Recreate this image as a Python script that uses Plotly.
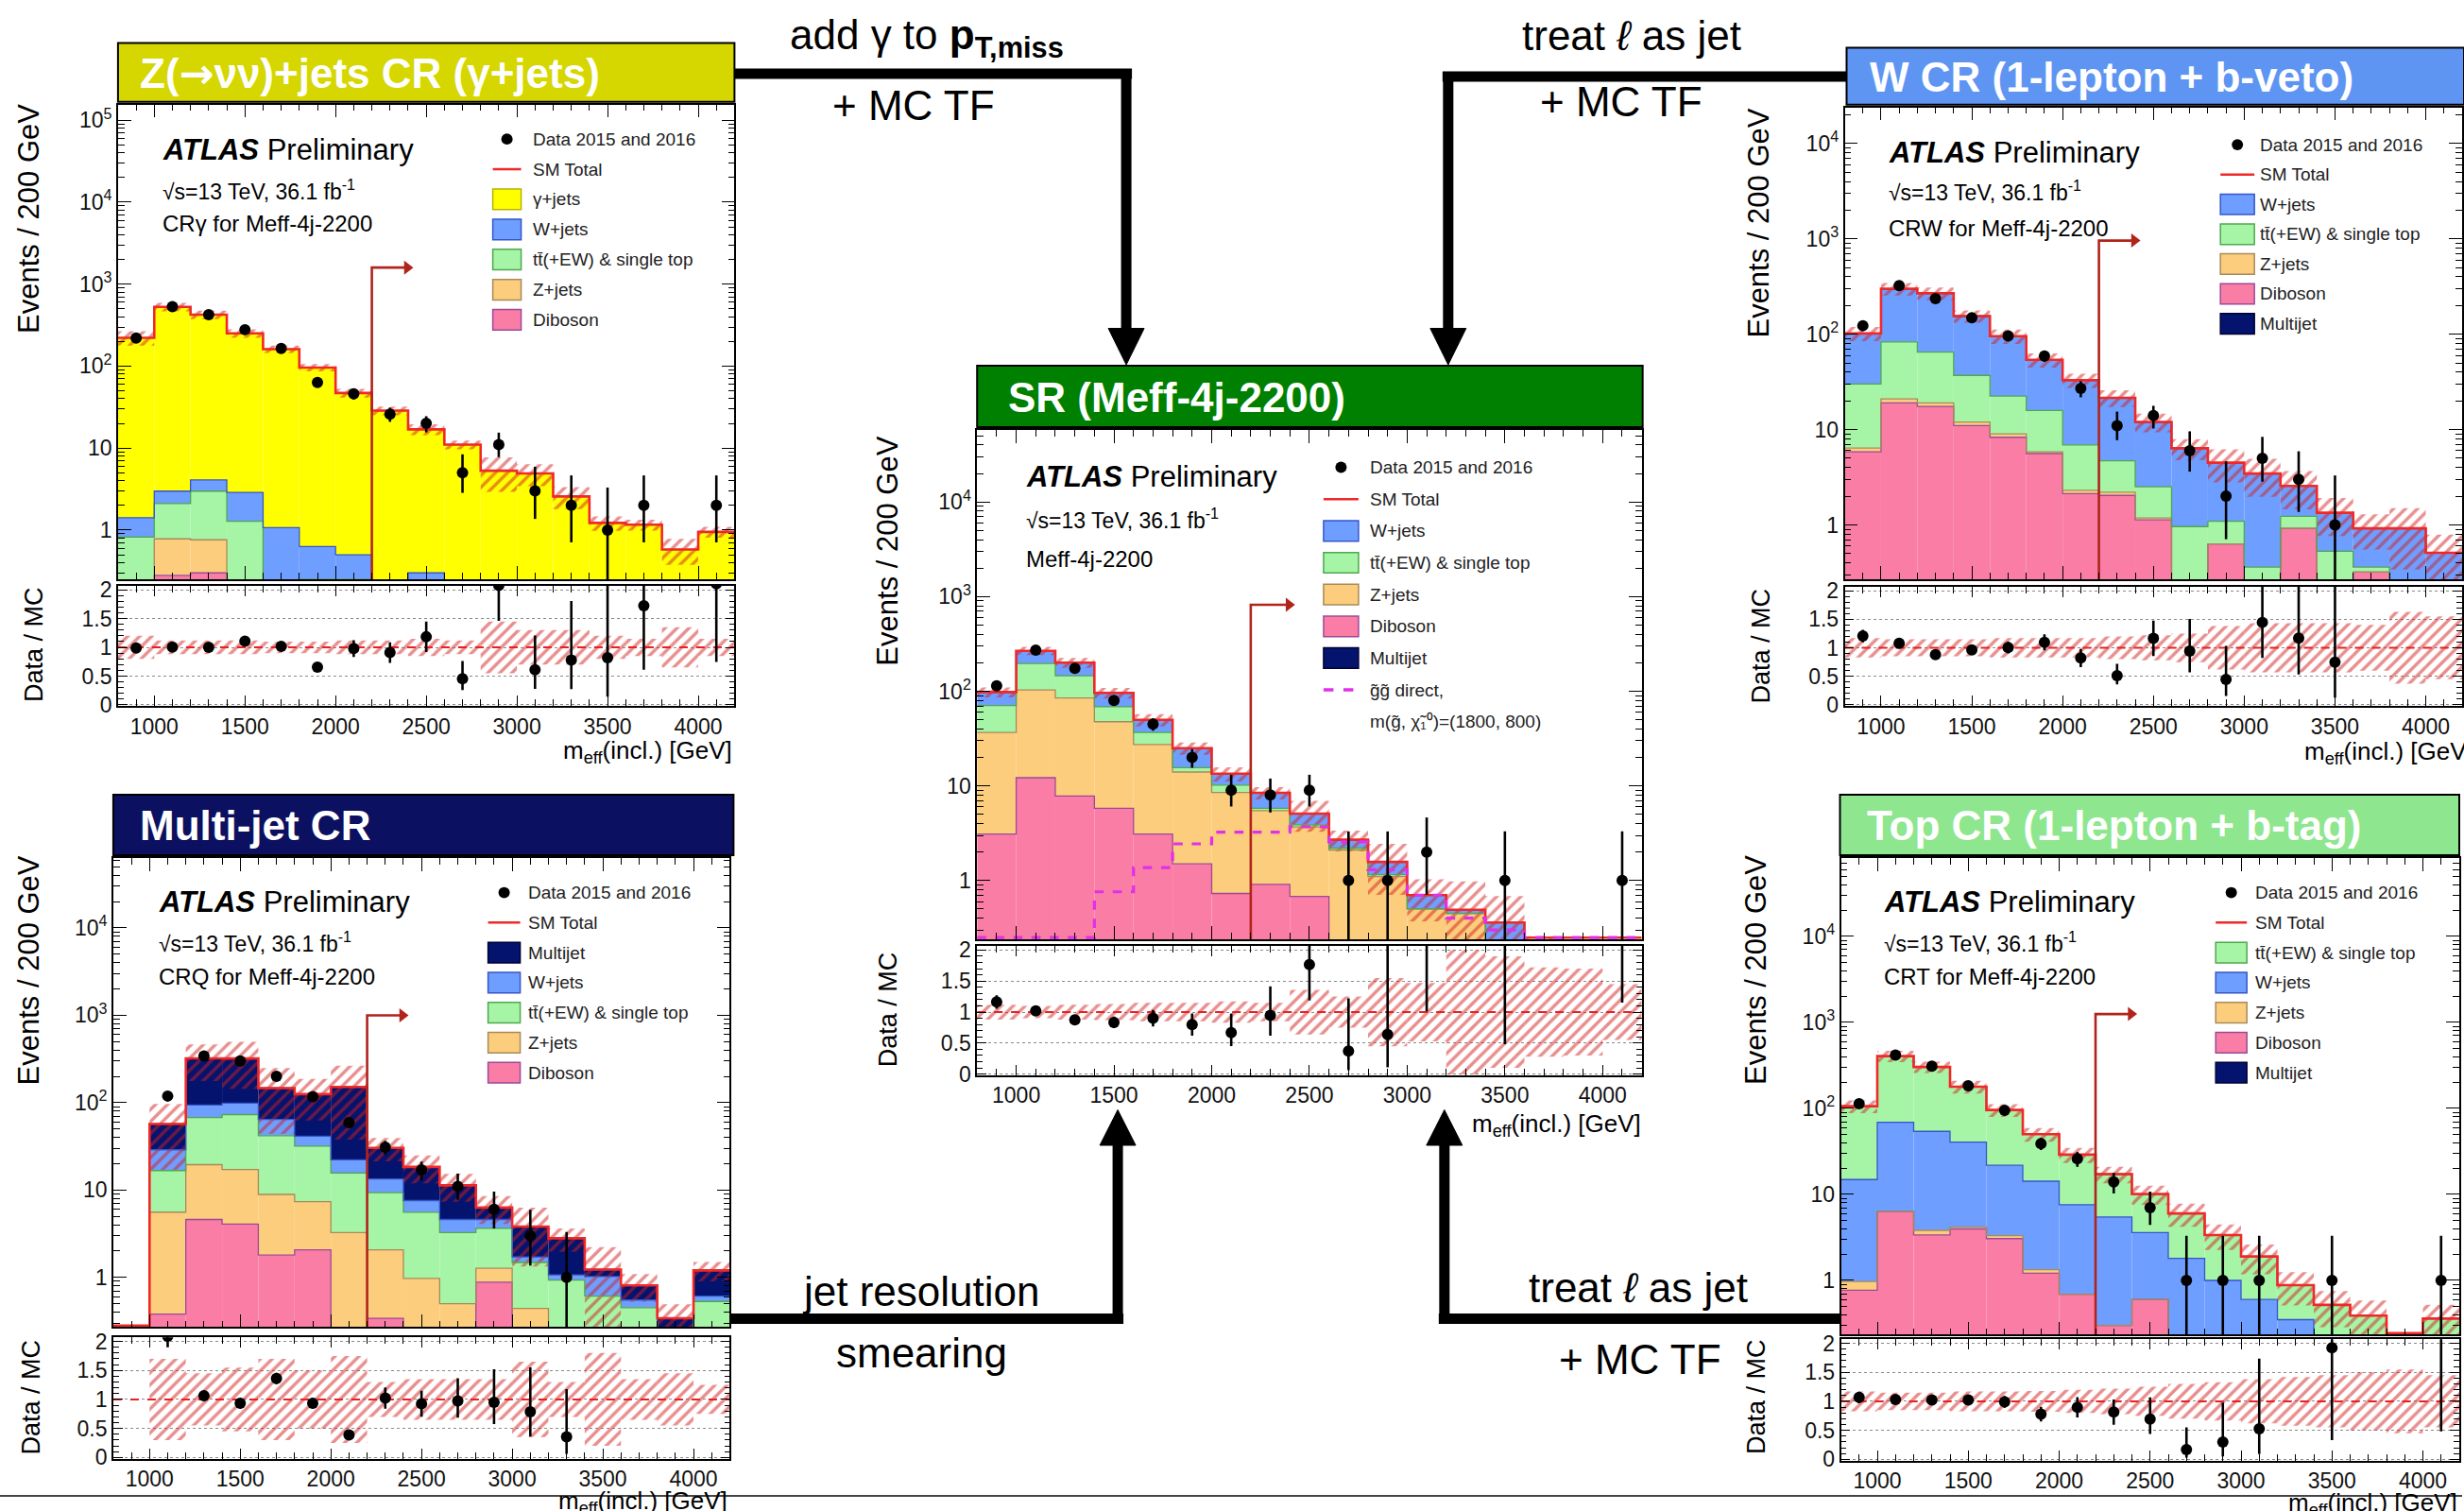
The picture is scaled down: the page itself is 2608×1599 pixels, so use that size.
import plotly.graph_objects as go

W, H = 2608, 1599
FONT = "Liberation Sans, Arial, Helvetica, sans-serif"

EDGES = [800 + 200 * i for i in range(18)]
CENTERS = [900 + 200 * i for i in range(17)]
XTICKS = [1000, 1500, 2000, 2500, 3000, 3500, 4000]
LOG_TICKS = [1, 10, 100, 1000, 10000, 100000]
LOG_TEXT = ["1", "10", "10<sup>2</sup>", "10<sup>3</sup>", "10<sup>4</sup>", "10<sup>5</sup>"]
RATIO_TICKS = [0, 0.5, 1, 1.5, 2]
RATIO_TEXT = ["0", "0.5", "1", "1.5", "2"]

# ---------------- Z(->vv)+jets CR (gamma+jets) ----------------
zcr_gamma = [220, 525, 420, 248, 160, 95.4, 46.5, 28.6, 16.6, 11.0, 5.3, 4.9, 2.57, 1.22, 1.16, 0.58, 0.95]
zcr_wjets = [0.59, 0.88, 1.1, 1.6, 0.87, 0.38, 0.25, 0, 0.15, 0, 0, 0, 0, 0, 0, 0, 0]
zcr_ttbar = [0.82, 1.32, 2.22, 1.28, 0.2, 0.25, 0.25, 0, 0.15, 0, 0, 0, 0, 0, 0, 0, 0]
zcr_zjets = [0, 0.5, 0.46, 0, 0, 0, 0, 0, 0, 0, 0, 0, 0, 0, 0, 0, 0]
zcr_dibos = [0, 0.28, 0.30, 0, 0, 0, 0, 0, 0, 0, 0, 0, 0, 0, 0, 0, 0]
zcr_data = [219, 530, 424, 278, 164, 63, 46, 26, 20, 5, 11, 3, 2, 1, 2, 0, 2]
zcr_unc = [0.2, 0.12, 0.12, 0.12, 0.1, 0.1, 0.12, 0.12, 0.15, 0.12, 0.45, 0.3, 0.3, 0.2, 0.15, 0.35, 0.15]

# ---------------- SR (Meff-4j-2200) ----------------
sr_wjets = [27, 70, 54, 27, 13, 9.3, 3.2, 2.6, 1.2, 0.5, 0.42, 0.2, 0.04, 0.3, 0.05, 0.02, 0.05]
sr_ttbar = [34, 93, 61, 21, 9.3, 1.6, 1.65, 0.33, 0.2, 0.1, 0.05, 0, 0, 0, 0, 0, 0]
sr_zjets = [33.6, 91, 77, 41.8, 24.3, 12.5, 7.8, 4.56, 3.0, 2.0, 1.05, 0.5, 0.45, 0.06, 0.1, 0.08, 0.1]
sr_dibos = [3.1, 12.2, 7.8, 5.8, 3.1, 1.5, 0.73, 0.91, 0.68, 0.1, 0.05, 0, 0, 0, 0, 0, 0]
sr_multi = [0.3, 0.8, 0.6, 0.4, 0.2, 0.1, 0.05, 0.05, 0.02, 0, 0, 0, 0, 0, 0, 0, 0]
sr_signal = [0.05, 0.1, 0.2, 0.76, 1.37, 2.44, 3.25, 3.25, 3.7, 2.56, 1.3, 0.7, 0.4, 0.3, 0.15, 0.1, 0.05]
sr_data = [114, 272, 175, 80, 45, 20, 9, 8, 9, 1, 1, 2, 0, 1, 0, 0, 1]
sr_unc = [0.12, 0.1, 0.12, 0.13, 0.15, 0.15, 0.17, 0.15, 0.36, 0.25, 0.55, 0.47, 1.0, 0.9, 0.72, 0.7, 0.45]

# ---------------- W CR (1-lepton + b-veto) ----------------
wcr_wjets = [72, 217, 204, 118, 73, 38, 26, 16.8, 9.5, 5.4, 3.4, 3.1, 1.33, 0.81, 0.56, 0.87, 0.46]
wcr_ttbar = [23.6, 62, 46, 25, 13.5, 10, 4.6, 2.5, 1.33, 0.86, 0.46, 0.26, 0.31, 0.43, 0.04, 0, 0]
wcr_zjets = [0.55, 2, 1.5, 1, 0.7, 0.25, 0.17, 0.16, 0.05, 0, 0, 0, 0, 0, 0, 0, 0]
wcr_dibos = [5.85, 19, 17.5, 11, 8.3, 5.6, 2.13, 2.04, 1.13, 0.1, 0.63, 0.1, 0.92, 0.1, 0.32, 0.05, 0.05]
wcr_multi = [0, 0, 0, 0, 0, 0, 0, 0, 0, 0, 0, 0, 0, 0, 0, 0, 0]
wcr_data = [123, 324, 237, 149, 96, 59, 27, 11, 14, 6, 2, 5, 3, 1, 0, 0, 0]
wcr_unc = [0.17, 0.15, 0.15, 0.15, 0.17, 0.17, 0.17, 0.2, 0.22, 0.25, 0.38, 0.43, 0.43, 0.43, 0.4, 0.63, 0.55]

# ---------------- Multi-jet CR ----------------
mjcr_multi = [0, 28, 227, 222, 82.5, 83.6, 129, 16.9, 10.8, 6.7, 1.7, 2.1, 1.73, 0.21, 0.26, 0.19, 0.59]
mjcr_wjets = [0, 12.2, 26.4, 25.6, 22.5, 9.6, 6.5, 4.06, 2.0, 1.35, 0.96, 0.23, 0.14, 0.41, 0.1, 0.05, 0.08]
mjcr_ttbar = [0, 11.1, 48, 55.8, 33, 24.4, 12.4, 7.27, 4.6, 2.75, 2.37, 1.04, 0.93, 0.61, 0.45, 0.1, 0.53]
mjcr_zjets = [0, 5.2, 14.9, 13.1, 7.1, 5.3, 3.15, 1.73, 0.97, 0.5, 0.39, 0.44, 0, 0, 0, 0, 0]
mjcr_dibos = [0, 0.38, 4.6, 4.07, 1.8, 2.07, 0.1, 0.34, 0, 0, 0.88, 0, 0, 0, 0, 0, 0]
mjcr_data = [0, 119, 342, 300, 200, 117, 59, 31, 17, 11, 6, 3, 1, 0, 0, 0, 0]
mjcr_unc = [0, 0.7, 0.45, 0.55, 0.7, 0.5, 0.75, 0.3, 0.35, 0.35, 0.35, 0.65, 0.3, 0.8, 0.35, 0.45, 0.25]

# ---------------- Top CR (1-lepton + b-tag) ----------------
tcr_ttbar = [91, 336, 249, 138, 74, 35.8, 21.4, 11.75, 6.5, 4.2, 2.37, 1.3, 0.53, 0.52, 0.39, 0.15, 0.36]
tcr_wjets = [13.9, 62.6, 50.2, 36.4, 18.5, 12.9, 6.9, 5.15, 3.0, 1.81, 1.0, 0.6, 0.35, 0, 0, 0, 0]
tcr_zjets = [0.2, 0.05, 0.45, 0.2, 0.25, 0.12, 0, 0, 0, 0, 0, 0, 0, 0, 0, 0, 0]
tcr_dibos = [0.77, 6.3, 3.37, 3.97, 3.06, 1.21, 0.69, 0.3, 0.6, 0, 0, 0, 0, 0, 0, 0, 0]
tcr_multi = [0.03, 0, 0, 0, 0, 0, 0, 0, 0, 0, 0, 0, 0, 0, 0, 0, 0]
tcr_data = [113, 417, 310, 183, 95, 39, 26, 14, 7, 1, 1, 1, 0, 1, 0, 0, 1]
tcr_unc = [0.17, 0.15, 0.15, 0.17, 0.17, 0.18, 0.2, 0.22, 0.25, 0.3, 0.33, 0.38, 0.42, 0.45, 0.5, 0.55, 0.45]

# ---------------- colours ----------------
C_GAM, L_GAM = "#FFFF00", "#B5B500"
C_W, L_W = "#6E9EFF", "#3656C8"
C_TT, L_TT = "#A6F5A6", "#4FA84F"
C_Z, L_Z = "#FCCD7C", "#A88A5A"
C_DB, L_DB = "#FA7DA6", "#9C4A98"
C_MJ, L_MJ = "#04136E", "#000033"
C_TOT = "#F02828"
C_HATCH = "#D21E1E"
C_ARR = "#B0241C"
C_SIG = "#E030E8"
TT_LABEL = "tt\u0304(+EW) & single top"

# Poisson (Garwood 68%) intervals used for data error bars
GARWOOD = {0: (0, 1.841), 1: (0.173, 3.300), 2: (0.708, 4.638), 3: (1.367, 5.918),
           4: (2.086, 7.163), 5: (2.840, 8.382), 6: (3.620, 9.584), 7: (4.419, 10.77),
           8: (5.232, 11.95), 9: (6.057, 13.11), 10: (6.891, 14.27), 11: (7.734, 15.42)}


def pint(n):
    if n in GARWOOD:
        return GARWOOD[n]
    s = n ** 0.5
    return (n - s, n + s)


def px(x):
    return x / W


def py(y):
    return 1 - y / H


ARROW_HTML = "<span style=\"font-family:'DejaVu Sans'\">\u2192</span>"

PANELS = [
    dict(comps=[(zcr_dibos, C_DB, L_DB), (zcr_zjets, C_Z, L_Z), (zcr_ttbar, C_TT, L_TT),
                (zcr_wjets, C_W, L_W), (zcr_gamma, C_GAM, L_GAM)],
         data=zcr_data, unc=zcr_unc, signal=None,
         xpix=(125, 778), main=(103, 612), ratio=(619, 748), yr=(-0.60, 5.19), arrow=1590,
         banner=((125, 37, 778, 100), "#D6D600", "Z(" + ARROW_HTML + "\u03bd\u03bd)+jets CR (\u03b3+jets)", 146),
         atlas=(170, 151, 195, 231), region="CR\u03b3 for Meff-4j-2200",
         ytitle=(30, 225), rtitle=(36, 682), xtitle=(778, 797),
         leg=(522, 552, 562, 140, 32.3),
         legend=[("data", "Data 2015 and 2016"), ("line", "SM Total"),
                 ("box", "\u03b3+jets", C_GAM, L_GAM), ("box", "W+jets", C_W, L_W),
                 ("box", TT_LABEL, C_TT, L_TT), ("box", "Z+jets", C_Z, L_Z),
                 ("box", "Diboson", C_DB, L_DB)]),
    dict(comps=[(sr_dibos, C_DB, L_DB), (sr_zjets, C_Z, L_Z), (sr_ttbar, C_TT, L_TT),
                (sr_wjets, C_W, L_W), (sr_multi, C_MJ, L_MJ)],
         data=sr_data, unc=sr_unc, signal=sr_signal,
         xpix=(1035, 1739), main=(452, 998), ratio=(1005, 1144), yr=(-0.62, 4.76), arrow=820,
         banner=((1035, 383, 1740, 449), "#008000", "SR (Meff-4j-2200)", 1066),
         atlas=(1085, 502, 547, 590), region="Meff-4j-2200",
         ytitle=(940, 582), rtitle=(941, 1073), xtitle=(1740, 1197),
         leg=(1402, 1439, 1449, 492, 34.1),
         legend=[("data", "Data 2015 and 2016"), ("line", "SM Total"),
                 ("box", "W+jets", C_W, L_W), ("box", TT_LABEL, C_TT, L_TT),
                 ("box", "Z+jets", C_Z, L_Z), ("box", "Diboson", C_DB, L_DB),
                 ("box", "Multijet", C_MJ, L_MJ), ("dash", "g\u0303g\u0303 direct,"),
                 ("none", "m(g\u0303, \u03c7\u0303\u2081\u2070)=(1800, 800)")]),
    dict(comps=[(wcr_dibos, C_DB, L_DB), (wcr_zjets, C_Z, L_Z), (wcr_ttbar, C_TT, L_TT),
                (wcr_wjets, C_W, L_W), (wcr_multi, C_MJ, L_MJ)],
         data=wcr_data, unc=wcr_unc, signal=None,
         xpix=(1954, 2608), main=(106, 612), ratio=(620, 748), yr=(-0.57, 4.38), arrow=960,
         banner=((1956, 42, 2610, 103), "#5E94F2", "W CR (1-lepton + b-veto)", 1979),
         atlas=(1999, 155, 196, 236), region="CRW for Meff-4j-2200",
         ytitle=(1863, 230), rtitle=(1865, 684), xtitle=(2622, 798),
         leg=(2352, 2388, 2392, 146, 32.0),
         legend=[("data", "Data 2015 and 2016"), ("line", "SM Total"),
                 ("box", "W+jets", C_W, L_W), ("box", TT_LABEL, C_TT, L_TT),
                 ("box", "Z+jets", C_Z, L_Z), ("box", "Diboson", C_DB, L_DB),
                 ("box", "Multijet", C_MJ, L_MJ)]),
    dict(comps=[(mjcr_dibos, C_DB, L_DB), (mjcr_zjets, C_Z, L_Z), (mjcr_ttbar, C_TT, L_TT),
                (mjcr_wjets, C_W, L_W), (mjcr_multi, C_MJ, L_MJ)],
         data=mjcr_data, unc=mjcr_unc, signal=None,
         xpix=(120, 773), main=(911, 1414), ratio=(1425, 1555), yr=(-0.57, 4.80), arrow=1000,
         banner=((120, 843, 777, 908), "#0B1060", "Multi-jet CR", 146),
         atlas=(166, 958, 1001, 1038), region="CRQ for Meff-4j-2200",
         ytitle=(30, 1031), rtitle=(33, 1489), xtitle=(773, 1602),
         leg=(517, 551, 557, 948, 32.2),
         legend=[("data", "Data 2015 and 2016"), ("line", "SM Total"),
                 ("box", "Multijet", C_MJ, L_MJ), ("box", "W+jets", C_W, L_W),
                 ("box", TT_LABEL, C_TT, L_TT), ("box", "Z+jets", C_Z, L_Z),
                 ("box", "Diboson", C_DB, L_DB)]),
    dict(comps=[(tcr_dibos, C_DB, L_DB), (tcr_zjets, C_Z, L_Z), (tcr_wjets, C_W, L_W),
                (tcr_ttbar, C_TT, L_TT), (tcr_multi, C_MJ, L_MJ)],
         data=tcr_data, unc=tcr_unc, signal=None,
         xpix=(1950, 2605), main=(911, 1422), ratio=(1427, 1557), yr=(-0.63, 4.91), arrow=1250,
         banner=((1949, 843, 2605, 908), "#8EE68E", "Top CR (1-lepton + b-tag)", 1976),
         atlas=(1994, 958, 1001, 1038), region="CRT for Meff-4j-2200",
         ytitle=(1860, 1031), rtitle=(1861, 1489), xtitle=(2605, 1604),
         leg=(2347, 2380, 2387, 948, 32.2),
         legend=[("data", "Data 2015 and 2016"), ("line", "SM Total"),
                 ("box", TT_LABEL, C_TT, L_TT), ("box", "W+jets", C_W, L_W),
                 ("box", "Z+jets", C_Z, L_Z), ("box", "Diboson", C_DB, L_DB),
                 ("box", "Multijet", C_MJ, L_MJ)]),
]

fig = go.Figure()
layout = dict(width=W, height=H, margin=dict(l=0, r=0, t=0, b=0),
              paper_bgcolor="white", plot_bgcolor="white", barmode="overlay",
              showlegend=False, font=dict(family=FONT, color="black"))
shapes, annots = [], []


def txt(x, y, s, size, color="black", xanchor="left", yanchor="middle", angle=0):
    annots.append(dict(x=px(x), y=py(y), xref="paper", yref="paper", text=s, showarrow=False,
                       xanchor=xanchor, yanchor=yanchor, textangle=angle,
                       font=dict(family=FONT, size=size, color=color)))


def rect(x0, y0, x1, y1, fill, line="black", lw=1.0):
    shapes.append(dict(type="rect", xref="paper", yref="paper", x0=px(x0), x1=px(x1),
                       y0=py(y1), y1=py(y0), fillcolor=fill, line=dict(color=line, width=lw)))


def seg(x0, y0, x1, y1, color, lw, dash="solid"):
    shapes.append(dict(type="line", xref="paper", yref="paper", x0=px(x0), y0=py(y0),
                       x1=px(x1), y1=py(y1), line=dict(color=color, width=lw, dash=dash)))


def tri(pts, color="black"):
    path = "M " + " L ".join(f"{px(x):.6f},{py(y):.6f}" for x, y in pts) + " Z"
    shapes.append(dict(type="path", xref="paper", yref="paper", path=path,
                       fillcolor=color, line=dict(color=color, width=1)))


AXBASE = dict(showline=True, linecolor="black", linewidth=1.5, mirror="allticks",
              ticks="inside", ticklen=14, tickwidth=1.3, tickcolor="black",
              showgrid=False, zeroline=False,
              tickfont=dict(family=FONT, size=23, color="#111"))
XMINOR = dict(tickmode="linear", tick0=800, dtick=100, ticks="inside", ticklen=7,
              tickcolor="black", tickwidth=1)
LOGMINOR = dict(tickmode="array", tickvals=[m * 10 ** k for k in range(-1, 6) for m in range(2, 10)],
                ticks="inside", ticklen=7, tickcolor="black", tickwidth=1)
RMINOR = dict(tickmode="linear", tick0=0, dtick=0.1, ticks="inside", ticklen=6,
              tickcolor="black", tickwidth=1)
HATCH = dict(color="rgba(0,0,0,0)", line=dict(width=0),
             pattern=dict(shape="/", fgcolor=C_HATCH, bgcolor="rgba(0,0,0,0)",
                          size=9, solidity=0.38, fillmode="overlay"))

for i, P in enumerate(PANELS):
    a, b = 2 * i + 1, 2 * i + 2
    xm = "x" if a == 1 else f"x{a}"
    ym = "y" if a == 1 else f"y{a}"
    xr, yr = f"x{b}", f"y{b}"
    X0, X1 = P["xpix"]
    M0, M1 = P["main"]
    R0, R1 = P["ratio"]
    lo, hi = P["yr"]
    floor = 10 ** lo * 1.04
    tiny = 1e-6

    layout["xaxis" if a == 1 else f"xaxis{a}"] = {**AXBASE, "domain": [px(X0), min(px(X1), 1)],
                                                  "anchor": ym, "range": [800, 4200],
                                                  "tickvals": XTICKS, "showticklabels": False,
                                                  "minor": XMINOR}
    layout["yaxis" if a == 1 else f"yaxis{a}"] = {**AXBASE, "domain": [py(M1), py(M0)],
                                                  "anchor": xm, "type": "log", "range": [lo, hi],
                                                  "tickvals": LOG_TICKS, "ticktext": LOG_TEXT,
                                                  "minor": LOGMINOR}
    layout[f"xaxis{b}"] = {**AXBASE, "domain": [px(X0), min(px(X1), 1)], "anchor": yr,
                           "range": [800, 4200], "tickvals": XTICKS,
                           "ticktext": [str(v) for v in XTICKS], "minor": XMINOR, "ticklen": 11}
    layout[f"yaxis{b}"] = {**AXBASE, "domain": [py(R1), py(R0)], "anchor": xr,
                           "range": [-0.02, 2.07], "tickvals": RATIO_TICKS,
                           "ticktext": RATIO_TEXT, "showgrid": True, "gridcolor": "#8a8a8a",
                           "griddash": "dot", "gridwidth": 1, "minor": RMINOR, "ticklen": 10}

    # ---- stacked backgrounds ----
    cum = [0.0] * 17
    for vals, fill, line in P["comps"]:
        base = [c if c > 0 else tiny for c in cum]
        fig.add_trace(go.Bar(x=CENTERS, y=vals, base=base, width=200, opacity=1,
                             marker=dict(color=fill, line=dict(width=0)),
                             xaxis=xm, yaxis=ym, hoverinfo="skip"))
        cum = [c + v for c, v in zip(cum, vals)]
        tops = [c if c > 0 else tiny for c in cum]
        fig.add_trace(go.Scatter(x=EDGES, y=tops + [tops[-1]], mode="lines",
                                 line=dict(color=line, width=1.3, shape="hv"),
                                 xaxis=xm, yaxis=ym, hoverinfo="skip"))
    total = cum
    unc = P["unc"]

    # ---- uncertainty hatch (main) ----
    hb = [max(t * (1 - u), tiny) for t, u in zip(total, unc)]
    hy = [t * (1 + u) - b_ if t > 0 else 0 for t, u, b_ in zip(total, unc, hb)]
    fig.add_trace(go.Bar(x=CENTERS, y=hy, base=hb, width=200, opacity=1, marker=HATCH,
                         xaxis=xm, yaxis=ym, hoverinfo="skip"))

    # ---- SM total ----
    tl = [max(t, floor) for t in total]
    fig.add_trace(go.Scatter(x=EDGES, y=tl + [tl[-1]], mode="lines",
                             line=dict(color=C_TOT, width=2.6, shape="hv"),
                             xaxis=xm, yaxis=ym, hoverinfo="skip"))

    # ---- signal ----
    if P["signal"] is not None:
        sg = [max(s, floor) for s in P["signal"]]
        fig.add_trace(go.Scatter(x=EDGES, y=sg + [sg[-1]], mode="lines",
                                 line=dict(color=C_SIG, width=3.2, shape="hv", dash="dash"),
                                 xaxis=xm, yaxis=ym, hoverinfo="skip"))

    # ---- cut arrow ----
    fig.add_trace(go.Scatter(x=[2200, 2200, 2385], y=[1e-3, P["arrow"], P["arrow"]], mode="lines",
                             line=dict(color=C_ARR, width=2.6), xaxis=xm, yaxis=ym,
                             hoverinfo="skip"))
    fig.add_trace(go.Scatter(x=[2395], y=[P["arrow"]], mode="markers",
                             marker=dict(symbol="triangle-right", size=13, color=C_ARR),
                             xaxis=xm, yaxis=ym, hoverinfo="skip"))

    # ---- data ----
    dat = P["data"]
    dy, dlo, dhi = [], [], []
    for n in dat:
        if n > 0:
            l_, h_ = pint(n)
            dy.append(n)
            dlo.append(n - l_)
            dhi.append(h_ - n)
        else:
            dy.append(None)
            dlo.append(0)
            dhi.append(0)
    fig.add_trace(go.Scatter(x=CENTERS, y=dy, mode="markers",
                             marker=dict(color="black", size=12),
                             error_y=dict(type="data", symmetric=False, array=dhi, arrayminus=dlo,
                                          width=0, thickness=2.6, color="black"),
                             xaxis=xm, yaxis=ym, hoverinfo="skip"))

    # ---- ratio panel ----
    rb = [1 - u if t > 0 else 1 for t, u in zip(total, unc)]
    ry = [2 * u if t > 0 else 0 for t, u in zip(total, unc)]
    fig.add_trace(go.Bar(x=CENTERS, y=ry, base=rb, width=200, opacity=1, marker=HATCH,
                         xaxis=xr, yaxis=yr, hoverinfo="skip"))
    fig.add_trace(go.Scatter(x=[800, 4200], y=[1, 1], mode="lines",
                             line=dict(color="#E82020", width=2, dash="dash"),
                             xaxis=xr, yaxis=yr, hoverinfo="skip"))
    ratio, rlo, rhi = [], [], []
    for n, t, l_, h_ in zip(dat, total, dlo, dhi):
        if n > 0 and t > 0:
            ratio.append(n / t)
            rlo.append(l_ / t)
            rhi.append(h_ / t)
        else:
            ratio.append(None)
            rlo.append(0)
            rhi.append(0)
    fig.add_trace(go.Scatter(x=CENTERS, y=ratio, mode="markers",
                             marker=dict(color="black", size=12),
                             error_y=dict(type="data", symmetric=False, array=rhi, arrayminus=rlo,
                                          width=0, thickness=2.6, color="black"),
                             xaxis=xr, yaxis=yr, hoverinfo="skip"))

    # ---- banner ----
    (bx0, by0, bx1, by1), bcol, btxt, btx = P["banner"]
    rect(bx0, by0, bx1, by1, bcol, "black", 2)
    txt(btx, (by0 + by1) / 2 + 1, f"<b>{btxt}</b>", 44, color="white")

    # ---- labels ----
    ax_, ay1, ay2, ay3 = P["atlas"]
    txt(ax_, ay1, "<b><i>ATLAS</i></b> Preliminary", 31)
    txt(ax_, ay2, "\u221as=13 TeV, 36.1 fb<sup>-1</sup>", 23)
    txt(ax_, ay3, P["region"], 24)
    txt(P["ytitle"][0], P["ytitle"][1], "Events / 200 GeV", 31, xanchor="center", angle=-90)
    txt(P["rtitle"][0], P["rtitle"][1], "Data / MC", 27, xanchor="center", angle=-90)
    txt(P["xtitle"][0], P["xtitle"][1], "m<sub>eff</sub>(incl.) [GeV]", 26, xanchor="right")

    # ---- legend ----
    sx0, sx1, tx, ly0, pitch = P["leg"]
    for k, entry in enumerate(P["legend"]):
        kind, label = entry[0], entry[1]
        yy = ly0 + k * pitch
        cx = (sx0 + sx1) / 2
        if kind == "data":
            shapes.append(dict(type="circle", xref="paper", yref="paper",
                               x0=px(cx - 6), x1=px(cx + 6), y0=py(yy + 6), y1=py(yy - 6),
                               fillcolor="black", line=dict(width=0)))
        elif kind == "line":
            seg(sx0, yy, sx1, yy, C_TOT, 2.5)
        elif kind == "dash":
            seg(sx0, yy, sx1, yy, C_SIG, 3.5, "dash")
        elif kind == "box":
            rect(sx0, yy - 11, sx1, yy + 11, entry[2], entry[3], 1.5)
        txt(tx, yy, label, 19, color="#222")

# ---------------- connecting arrows & texts ----------------
LW = 11
# top-left -> SR
seg(778, 70, 1199, 70, "black", LW)
seg(1193, 65, 1193, 346, "black", LW)
tri([(1174, 343), (1212, 343), (1193, 382)])
# top-right -> SR
seg(1956, 73, 1528, 73, "black", LW)
seg(1534, 68, 1534, 346, "black", LW)
tri([(1515, 343), (1553, 343), (1534, 382)])
# bottom-left -> SR
seg(773, 1405, 1190, 1405, "black", LW)
seg(1184, 1410, 1184, 1216, "black", LW)
tri([(1165, 1219), (1203, 1219), (1184, 1181)])
# bottom-right -> SR
seg(1949, 1405, 1524, 1405, "black", LW)
seg(1530, 1410, 1530, 1216, "black", LW)
tri([(1511, 1219), (1549, 1219), (1530, 1181)])

txt(982, 31, "add \u03b3 to <b>p<sub>T,miss</sub></b>", 44, xanchor="center")
txt(968, 104, "+ MC TF", 44, xanchor="center")
txt(1728, 29, "treat <i>\u2113</i> as jet", 44, xanchor="center")
txt(1717, 100, "+ MC TF", 44, xanchor="center")
txt(975, 1376, "jet resolution", 44, xanchor="center")
txt(976, 1441, "smearing", 44, xanchor="center")
txt(1735, 1372, "treat <i>\u2113</i> as jet", 44, xanchor="center")
txt(1737, 1449, "+ MC TF", 44, xanchor="center")

seg(0, 1595, W, 1595, "#444", 2)

layout["shapes"] = shapes
layout["annotations"] = annots
fig.update_layout(**layout)
fig.write_html("out.html")
